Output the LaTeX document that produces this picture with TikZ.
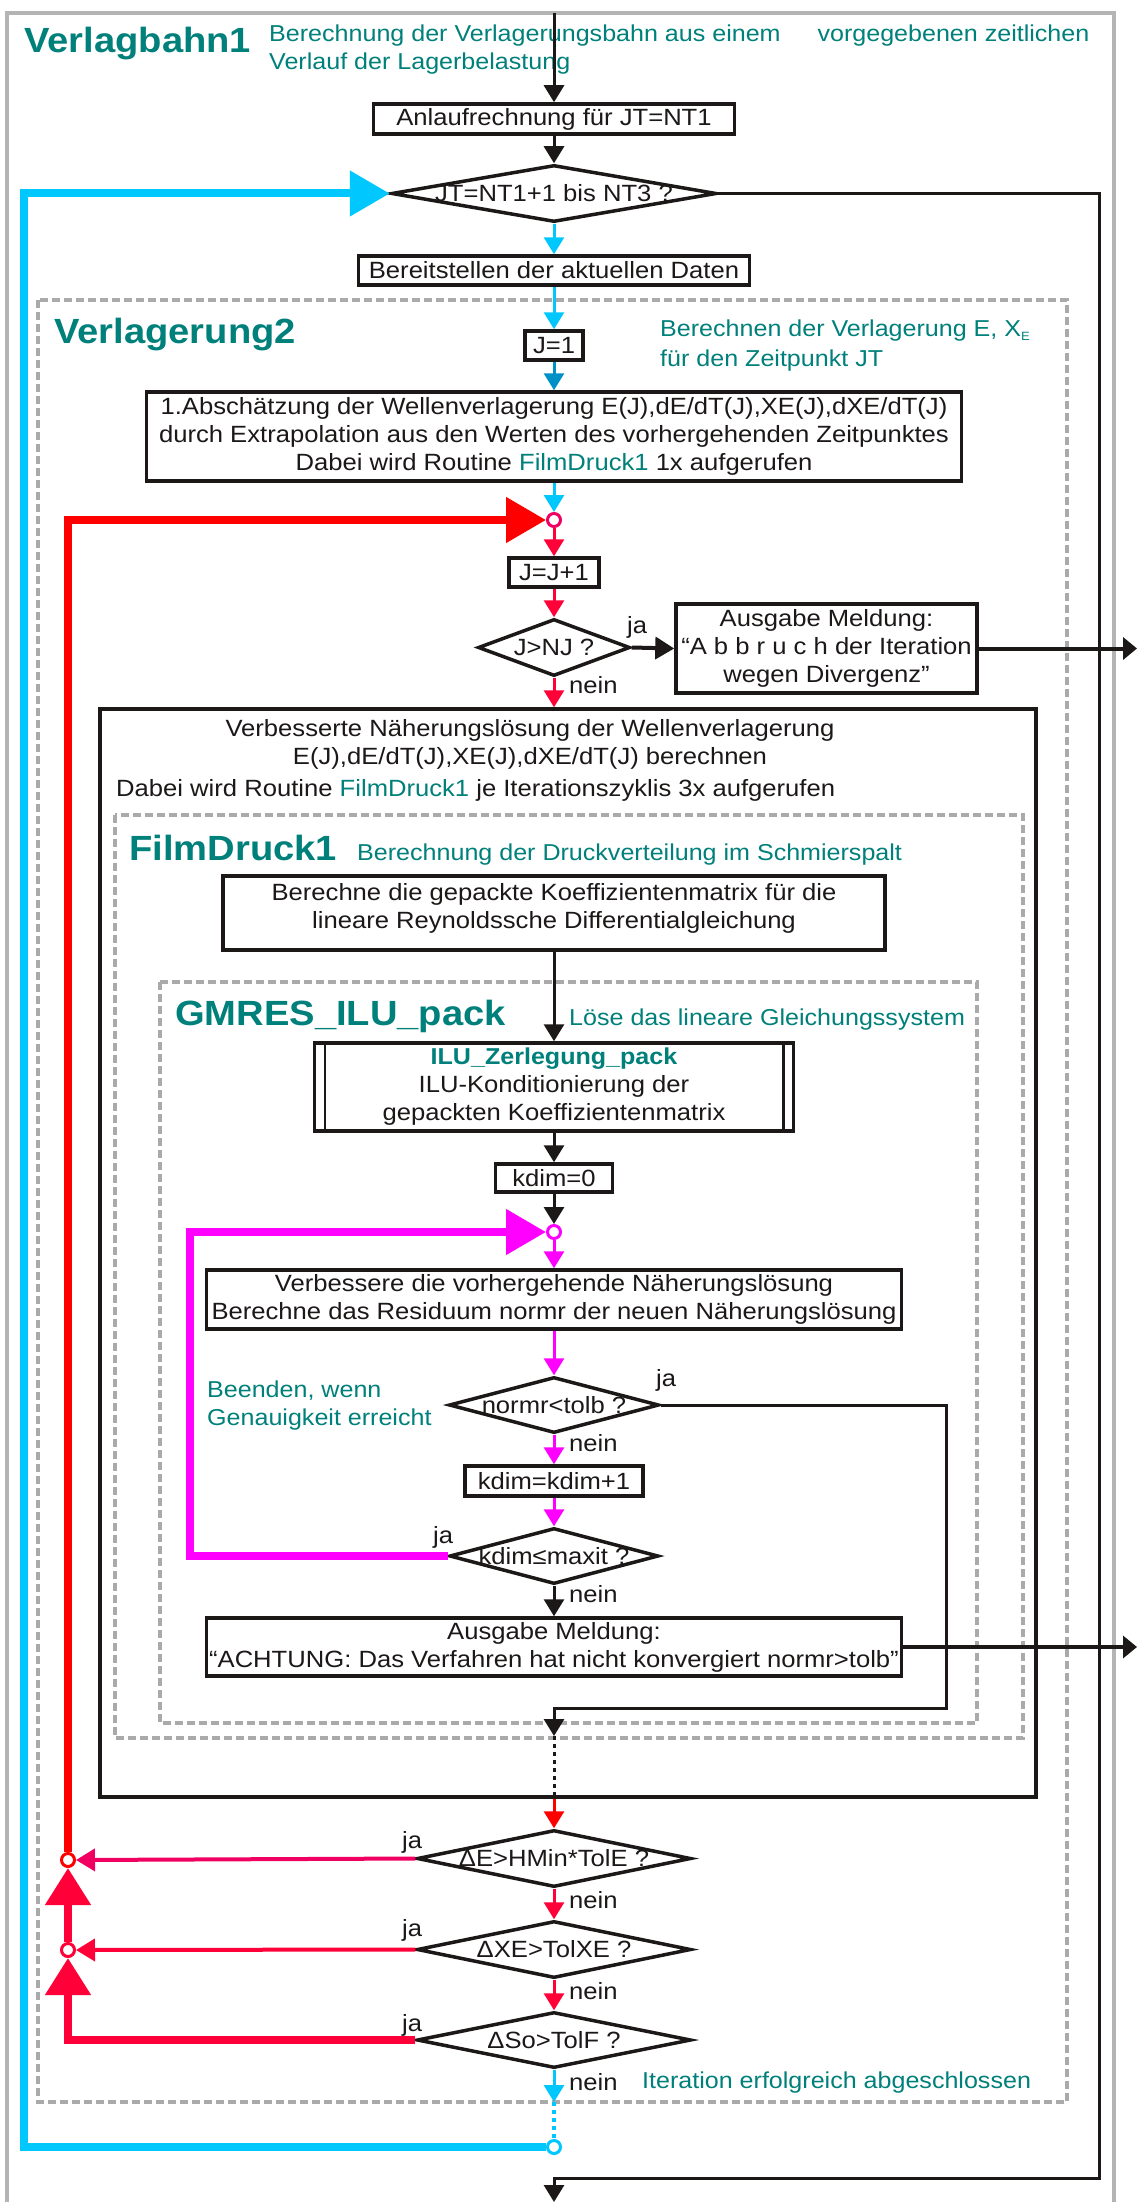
\documentclass[tikz,border=0pt]{standalone}
\usepackage{fontspec}
\setmainfont{Liberation Sans}[FakeStretch=1.09]
\usetikzlibrary{arrows.meta,shapes.geometric}

\definecolor{ink}{RGB}{28,24,24}
\definecolor{tealtxt}{RGB}{0,128,122}
\definecolor{framegray}{RGB}{180,180,180}
\definecolor{dashgray}{RGB}{170,170,170}
\definecolor{loopcyan}{RGB}{0,200,255}
\definecolor{deepblue}{RGB}{0,144,200}
\definecolor{loopred}{RGB}{255,0,0}
\definecolor{crimson}{RGB}{255,0,56}
\definecolor{pinkred}{RGB}{240,0,96}
\definecolor{loopmag}{RGB}{255,0,255}

\begin{document}
\begin{tikzpicture}[x=1pt,y=-1pt,
  txt/.style={font=\fontsize{23.5}{28}\selectfont, text=ink, inner sep=0pt},
  lbl/.style={txt, anchor=base west},
  box/.style={draw=ink, line width=3.5pt, rectangle, inner sep=0pt, align=center, txt},
  dia/.style={draw=ink, line width=3.5pt, diamond, inner sep=0pt},
  ring/.style={circle, line width=3pt, minimum size=13pt, inner sep=0pt, fill=white},
  flow/.style={line width=3pt, -{Triangle[length=17pt,width=20pt]}},
  sideflow/.style={line width=4pt, -{Triangle[length=19pt,width=22pt]}},
  exitflow/.style={line width=4pt, -{Triangle[length=14pt,width=22pt]}},
  bigflow/.style={line width=8pt, -{Triangle[length=40pt,width=44pt]}},
  upflow/.style={line width=8pt, -{Triangle[length=37pt,width=44pt]}},
  frame/.style={draw=dashgray, line width=3.5pt, dash pattern=on 8pt off 4pt},
  title/.style={font=\fontsize{35}{40}\selectfont\bfseries, text=tealtxt, inner sep=0pt, anchor=base west},
  note/.style={font=\fontsize{23}{28}\selectfont, text=tealtxt, inner sep=0pt, anchor=base west},
]
\useasboundingbox[fill=white] (0,0) rectangle (1137,2202);

% ---------- frames of the nested routines ----------
\draw[framegray, line width=4pt] (7,2202) -- (7,13) -- (1114,13) -- (1114,2202);
\draw[frame] (38,300) rectangle (1067,2102);
\draw[frame] (115,815) rectangle (1023,1738);
\draw[frame] (160,982) rectangle (977,1723);

% ---------- routine titles and remarks ----------
\node[title] (tVB) at (24,53) {Verlagbahn1};
\node[note] (nVB1) at (269,42) {Berechnung der Verlagerungsbahn aus einem\hspace{30pt} vorgegebenen zeitlichen};
\node[note] (nVB2) at (269,70) {Verlauf der Lagerbelastung};
\node[title] (tVL) at (54,343) {Verlagerung2};
\node[note] (nVL1) at (660,336) {Berechnen der Verlagerung E, X\raisebox{-4pt}{\fontsize{12}{12}\selectfont E}};
\node[note] (nVL2) at (660,366) {für den Zeitpunkt JT};
\node[title] (tFD) at (129,860) {FilmDruck1};
\node[note] (nFD) at (357,860) {Berechnung der Druckverteilung im Schmierspalt};
\node[title] (tGM) at (175,1025) {GMRES\_ILU\_pack};
\node[note] (nGM) at (569,1025) {Löse das lineare Gleichungssystem};
\node[note] (nBe1) at (207,1397) {Beenden, wenn};
\node[note] (nBe2) at (207,1425) {Genauigkeit erreicht};
\node[note] (nIt) at (642,2088) {Iteration erfolgreich abgeschlossen};

% ---------- process boxes ----------
\node[box, minimum width=361pt, minimum height=30pt] (A) at (554,119) {Anlaufrechnung für JT=NT1};
\node[box, minimum width=391pt, minimum height=29pt] (B) at (554,270.5) {Bereitstellen der aktuellen Daten};
\node[box, minimum width=58pt, minimum height=29pt] (J1) at (554,345.5) {J=1};
\node[box, minimum width=815pt, minimum height=89pt] (C) at (554,436.5)
  {1.Abschätzung der Wellenverlagerung E(J),dE/dT(J),XE(J),dXE/dT(J)\\
   durch Extrapolation aus den Werten des vorhergehenden Zeitpunktes\\
   Dabei wird Routine \textcolor{tealtxt}{FilmDruck1} 1x aufgerufen};
\node[box, minimum width=90pt, minimum height=29pt] (J2) at (554,572.5) {J=J+1};
\node[box, minimum width=301pt, minimum height=89pt] (Abb) at (826.5,648.5)
  {Ausgabe Meldung:\\“A b b r u c h der Iteration\\wegen Divergenz”};

\node[box, minimum width=936pt, minimum height=1088pt] (D) at (568,1253) {};
\node[txt, anchor=base] (d1) at (530,736) {Verbesserte Näherungslösung der Wellenverlagerung};
\node[txt, anchor=base] (d2) at (530,764) {E(J),dE/dT(J),XE(J),dXE/dT(J) berechnen};
\node[txt, anchor=base west] (d3) at (116,796) {Dabei wird Routine \textcolor{tealtxt}{FilmDruck1} je Iterationszyklis 3x aufgerufen};

\node[box, minimum width=662pt, minimum height=74pt] (E) at (554,913) {};
\node[txt, anchor=base] (e1) at (554,900) {Berechne die gepackte Koeffizientenmatrix für die};
\node[txt, anchor=base] (e2) at (554,928) {lineare Reynoldssche Differentialgleichung};

\node[box, minimum width=479pt, minimum height=88pt] (ILU) at (554,1087)
  {{\fontsize{23}{28}\selectfont\bfseries\color{tealtxt}ILU\_Zerlegung\_pack}\\
   ILU-Konditionierung der\\gepackten Koeffizientenmatrix};
\draw[ink, line width=2.5pt] ([xshift=12pt]ILU.north west) -- ([xshift=12pt]ILU.south west);
\draw[ink, line width=2.5pt] ([xshift=-12pt]ILU.north east) -- ([xshift=-12pt]ILU.south east);

\node[box, minimum width=117pt, minimum height=28pt] (K0) at (554,1178) {kdim=0};
\node[box, minimum width=695pt, minimum height=59pt] (F) at (554,1299.5)
  {Verbessere die vorhergehende Näherungslösung\\Berechne das Residuum normr der neuen Näherungslösung};
\node[box, minimum width=178pt, minimum height=30pt] (K1) at (554,1481) {kdim=kdim+1};
\node[box, minimum width=695pt, minimum height=58pt] (G) at (554,1647)
  {Ausgabe Meldung:\\“ACHTUNG: Das Verfahren hat nicht konvergiert normr>tolb”};

% ---------- decisions ----------
\node[dia, minimum width=325pt, minimum height=57pt, label={[txt]center:JT=NT1+1 bis NT3 ?}] (D1) at (554,193.5) {};
\node[dia, minimum width=152pt, minimum height=57pt, label={[txt]center:J>NJ ?}] (D2) at (554,647.5) {};
\node[dia, minimum width=210pt, minimum height=56pt, label={[txt]center:normr<tolb ?}] (D3) at (554,1405) {};
\node[dia, minimum width=209pt, minimum height=56pt, label={[txt]center:kdim≤maxit ?}] (D4) at (554,1556) {};
\node[dia, minimum width=274pt, minimum height=57pt, label={[txt]center:ΔE>HMin*TolE ?}] (DE) at (554,1858.5) {};
\node[dia, minimum width=274pt, minimum height=57pt, label={[txt]center:ΔXE>TolXE ?}] (DXE) at (554,1949.5) {};
\node[dia, minimum width=274pt, minimum height=56pt, label={[txt]center:ΔSo>TolF ?}] (DSo) at (554,2040) {};

% ---------- junction rings ----------
\node[ring, draw=pinkred] (R) at (554,520) {};
\node[ring, draw=loopmag] (M) at (554,1232) {};
\node[ring, draw=loopred] (R1) at (68,1860) {};
\node[ring, draw=crimson] (R2) at (68,1950) {};
\node[ring, draw=loopcyan] (C2) at (554,2147) {};

% ---------- branch labels ----------
\node[lbl] (ja1) at (627,633) {ja};
\node[lbl] (ne1) at (569,693) {nein};
\node[lbl] (ja2) at (656,1386) {ja};
\node[lbl] (ne2) at (569,1451) {nein};
\node[lbl] (ja3) at (433,1543) {ja};
\node[lbl] (ne3) at (569,1602) {nein};
\node[lbl] (ja4) at (402,1848) {ja};
\node[lbl] (ne4) at (569,1908) {nein};
\node[lbl] (ja5) at (402,1936) {ja};
\node[lbl] (ne5) at (569,1999) {nein};
\node[lbl] (ja6) at (402,2031) {ja};
\node[lbl] (ne6) at (569,2090) {nein};

% ---------- free ends and corners ----------
\coordinate (entry) at (554,13);
\coordinate (exit) at (554,2202);
\coordinate (rt1) at (1099,2178);
\coordinate (out1) at (1137,648.5);
\coordinate (out2) at (1137,1647);
\coordinate (nrturn) at (946,1708);
\coordinate (nrend) at (554,1736);
\coordinate (magrail) at (190,1556);
\coordinate (cyanend) at (554,2102);
\coordinate (cyanrail) at (24,2147);

% ---------- connectors ----------
\draw[flow, ink] (entry) -- (A.north);
\draw[flow, ink] (A.south) -- (D1.north);
\draw[flow, ink] (D1.east) -| (rt1) -| (exit);
\draw[flow, loopcyan] (D1.south) -- (B.north);
\draw[flow, loopcyan] (B.south) -- (J1.north);
\draw[flow, deepblue] (J1.south) -- (C.north);
\draw[flow, loopcyan] (C.south) -- (R.north);
\draw[flow, crimson] (R.south) -- (J2.north);
\draw[flow, crimson] (J2.south) -- (D2.north);
\draw[sideflow, ink] (D2.east) -- (Abb.west);
\draw[exitflow, ink] (Abb.east) -- (out1);
\draw[flow, crimson] (D2.south) -- (D2.south |- D.north);

\draw[flow, ink] (E.south) -- (ILU.north);
\draw[flow, ink] (ILU.south) -- (K0.north);
\draw[flow, ink] (K0.south) -- (M.north);
\draw[flow, loopmag] (M.south) -- (F.north);
\draw[flow, loopmag] (F.south) -- (D3.north);
\draw[flow, loopmag] (D3.south) -- (K1.north);
\draw[flow, loopmag] (K1.south) -- (D4.north);
\draw[flow, ink] (D4.south) -- (G.north);
\draw[exitflow, ink] (G.east) -- (out2);
\draw[bigflow, loopmag] (D4.west) -- (magrail) |- (M.west);
\draw[flow, ink] (D3.east) -| (nrturn) -| (nrend);
\draw[ink, line width=3pt, dash pattern=on 4pt off 4pt] (nrend) -- (nrend |- D.south);

\draw[flow, loopred] (nrend |- D.south) -- (DE.north);
\draw[flow, crimson] (DE.south) -- (DXE.north);
\draw[flow, crimson] (DXE.south) -- (DSo.north);
\draw[sideflow, pinkred] (DE.west) -- (R1.east);
\draw[sideflow, crimson] (DXE.west) -- (R2.east);
\draw[upflow, crimson] (R2.north) -- (R1.south);
\draw[upflow, crimson] (DSo.west) -| (R2.south);
\draw[bigflow, loopred] (R1.north) |- (R.west);

\draw[flow, loopcyan] (DSo.south) -- (cyanend);
\draw[loopcyan, line width=4pt, dash pattern=on 4pt off 4pt] (cyanend) -- (C2.north);
\draw[bigflow, loopcyan] (C2.west) -- (cyanrail) |- (D1.west);
\end{tikzpicture}
\end{document}
